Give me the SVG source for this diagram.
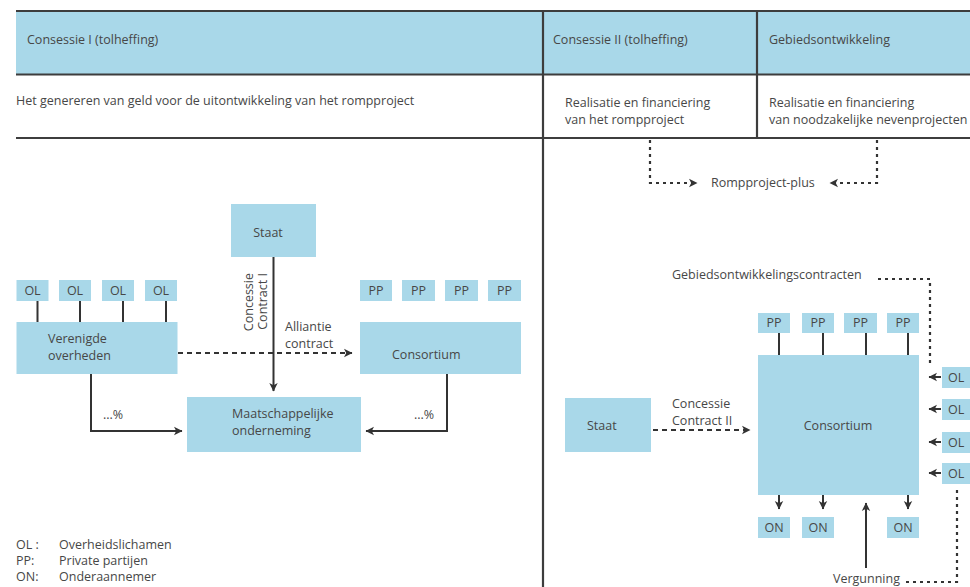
<svg xmlns="http://www.w3.org/2000/svg" width="970" height="587" viewBox="0 0 970 587">
<style>
text{font-family:"Open Sans","Liberation Sans",Arial,sans-serif;font-size:12.5px;fill:#474747}
.box{fill:#a9d8e9}
.frame{stroke:#3d3d3d;stroke-width:2.2;fill:none}
.ln{stroke:#333;stroke-width:2;fill:none}
.dash{stroke:#333;stroke-width:2;fill:none;stroke-dasharray:5,4}
.dot{stroke:#333;stroke-width:2.2;fill:none;stroke-dasharray:3,4}
.c{text-anchor:middle}
</style>
<defs>
<marker id="ah" markerUnits="userSpaceOnUse" markerWidth="10" markerHeight="10" refX="8" refY="5" orient="auto">
<path d="M0,0.8 L8.5,5 L0,9.2 L2.2,5 z" fill="#333"/>
</marker>
</defs>

<g id="header">
<rect x="16" y="11" width="954" height="63" class="box"/>
<line x1="16" y1="11" x2="970" y2="11" class="frame"/>
<line x1="16" y1="74.5" x2="970" y2="74.5" class="frame" stroke-width="2.6"/>
<line x1="16" y1="138" x2="970" y2="138" class="frame" stroke-width="2.6"/>
<line x1="543" y1="11" x2="543" y2="587" class="frame" stroke-width="2.6" stroke="#555"/>
<line x1="757" y1="11" x2="757" y2="138" class="frame" stroke-width="2.4"/>
<text x="27" y="44">Consessie I (tolheffing)</text>
<text x="553" y="44">Consessie II (tolheffing)</text>
<text x="769" y="44">Gebiedsontwikkeling</text>
<text x="16" y="105">Het genereren van geld voor de uitontwikkeling van het rompproject</text>
<text x="565" y="107">Realisatie en financiering</text>
<text x="565" y="124">van het rompproject</text>
<text x="769" y="107">Realisatie en financiering</text>
<text x="769" y="124">van noodzakelijke nevenprojecten</text>
</g>

<g id="staat1"><rect x="231" y="204" width="85" height="53" class="box"/><text x="268" y="237" class="c">Staat</text></g>
<g id="ol1"><rect x="16.5" y="280" width="32" height="21" class="box"/><text x="32.5" y="295" class="c">OL</text></g>
<g id="ol2"><rect x="59" y="280" width="32" height="21" class="box"/><text x="75" y="295" class="c">OL</text></g>
<g id="ol3"><rect x="102" y="280" width="32" height="21" class="box"/><text x="118" y="295" class="c">OL</text></g>
<g id="ol4"><rect x="145" y="280" width="32" height="21" class="box"/><text x="161" y="295" class="c">OL</text></g>
<g id="verenigde"><rect x="16.5" y="322" width="161" height="52" class="box"/><text x="48" y="343">Verenigde</text><text x="48" y="360">overheden</text></g>
<g id="pp1"><rect x="360" y="280" width="32" height="21" class="box"/><text x="376" y="295" class="c">PP</text></g>
<g id="pp2"><rect x="402" y="280" width="33" height="21" class="box"/><text x="418.5" y="295" class="c">PP</text></g>
<g id="pp3"><rect x="445" y="280" width="33" height="21" class="box"/><text x="461.5" y="295" class="c">PP</text></g>
<g id="pp4"><rect x="488" y="280" width="33" height="21" class="box"/><text x="504.5" y="295" class="c">PP</text></g>
<g id="consortium1"><rect x="360" y="322" width="161" height="52" class="box"/><text x="392" y="359">Consortium</text></g>
<g id="maatschappelijke"><rect x="187" y="397" width="174" height="55" class="box"/><text x="232" y="418">Maatschappelijke</text><text x="232" y="435">onderneming</text></g>

<g id="staat2"><rect x="565" y="398" width="86" height="54" class="box"/><text x="587" y="430">Staat</text></g>
<g id="pp5"><rect x="758" y="313" width="32" height="20" class="box"/><text x="774" y="327" class="c">PP</text></g>
<g id="pp6"><rect x="802" y="313" width="32" height="20" class="box"/><text x="818" y="327" class="c">PP</text></g>
<g id="pp7"><rect x="844" y="313" width="33" height="20" class="box"/><text x="860.5" y="327" class="c">PP</text></g>
<g id="pp8"><rect x="887" y="313" width="32" height="20" class="box"/><text x="903" y="327" class="c">PP</text></g>
<g id="consortium2"><rect x="758" y="355" width="161" height="140" class="box"/><text x="838" y="430" class="c">Consortium</text></g>
<g id="ol5"><rect x="942" y="367" width="40" height="21" class="box"/><text x="948" y="382">OL</text></g>
<g id="ol6"><rect x="942" y="399" width="40" height="21" class="box"/><text x="948" y="414">OL</text></g>
<g id="ol7"><rect x="942" y="432" width="40" height="21" class="box"/><text x="948" y="447">OL</text></g>
<g id="ol8"><rect x="942" y="463" width="40" height="21" class="box"/><text x="948" y="478">OL</text></g>
<g id="on1"><rect x="758" y="517" width="32" height="21" class="box"/><text x="774" y="532" class="c">ON</text></g>
<g id="on2"><rect x="802" y="517" width="32" height="21" class="box"/><text x="818" y="532" class="c">ON</text></g>
<g id="on3"><rect x="887" y="517" width="32" height="21" class="box"/><text x="903" y="532" class="c">ON</text></g>

<g id="connectors">
<path d="M650,140 V183 H697" class="dot" marker-end="url(#ah)"/>
<path d="M877,140 V183 H830" class="dot" marker-end="url(#ah)"/>
<path d="M37.5,301 V322 M80,301 V322 M123,301 V322 M166,301 V322" class="ln"/>
<path d="M273.5,257 V391" class="ln" marker-end="url(#ah)"/>
<path d="M178,353 H352" class="dash" marker-end="url(#ah)"/>
<path d="M91,374 V431 H182" class="ln" marker-end="url(#ah)"/>
<path d="M447,374 V431 H366" class="ln" marker-end="url(#ah)"/>
<path d="M878,279 H930 V366" class="dot"/>
<path d="M779,333 V355 M823,333 V355 M866,333 V355 M908,333 V355" class="ln"/>
<path d="M941,377 H929" class="ln" marker-end="url(#ah)"/>
<path d="M941,409 H929" class="ln" marker-end="url(#ah)"/>
<path d="M941,442 H929" class="ln" marker-end="url(#ah)"/>
<path d="M941,473 H929" class="ln" marker-end="url(#ah)"/>
<path d="M653,430 H750" class="dash" marker-end="url(#ah)"/>
<path d="M779,495 V509" class="ln" marker-end="url(#ah)"/>
<path d="M823,495 V509" class="ln" marker-end="url(#ah)"/>
<path d="M908,495 V509" class="ln" marker-end="url(#ah)"/>
<path d="M866,568 V503" class="ln" marker-end="url(#ah)"/>
<path d="M957,490 V582 H903" class="dot"/>
</g>

<g id="labels">
<text x="711" y="187">Rompproject-plus</text>
<text transform="translate(253,273) rotate(-90)" text-anchor="end">Concessie</text>
<text transform="translate(267,273) rotate(-90)" text-anchor="end">Contract I</text>
<text x="285" y="331">Alliantie</text>
<text x="285" y="348">contract</text>
<text x="103" y="419">...%</text>
<text x="414" y="419">...%</text>
<text x="672" y="279">Gebiedsontwikkelingscontracten</text>
<text x="672" y="408">Concessie</text>
<text x="672" y="425">Contract II</text>
<text x="833" y="583" font-size="11.5">Vergunning</text>
<text x="16" y="549">OL :</text><text x="59" y="549">Overheidslichamen</text>
<text x="16" y="565">PP:</text><text x="59" y="565">Private partijen</text>
<text x="16" y="581">ON:</text><text x="59" y="581">Onderaannemer</text>
</g>
</svg>
